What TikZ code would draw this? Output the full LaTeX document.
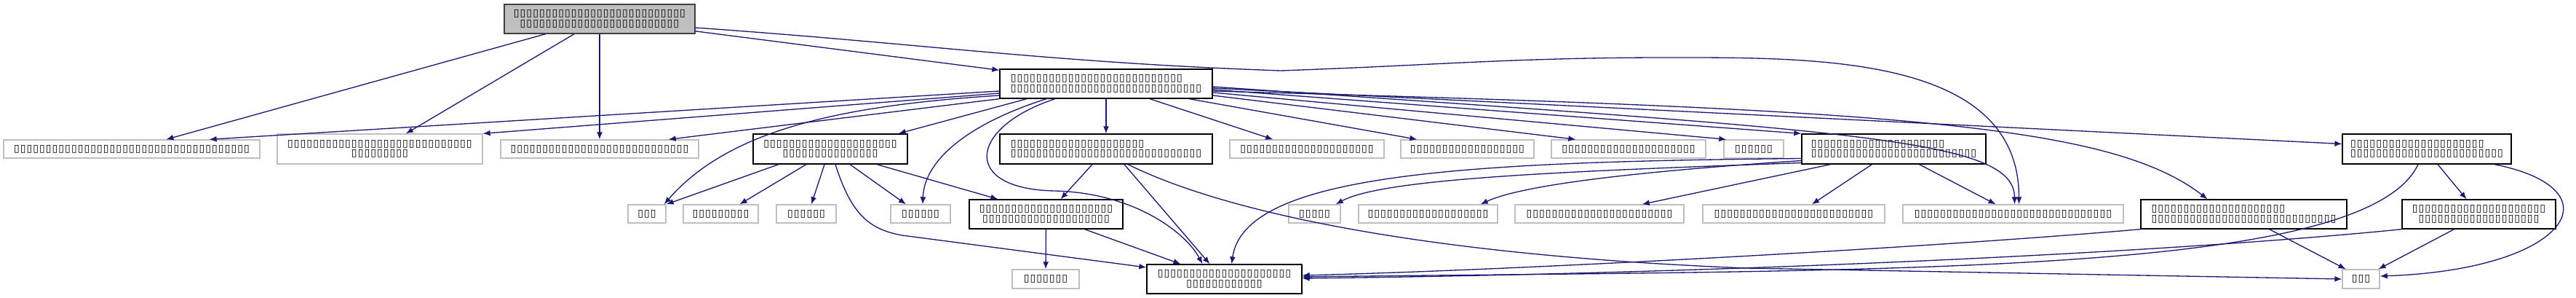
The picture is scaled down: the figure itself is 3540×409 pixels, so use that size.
\documentclass[tikz,border=0pt]{standalone}
\usepackage{fontspec}
\usepackage{tikz}
\usetikzlibrary{arrows.meta}
\newfontfamily\tofufont{DejaVu Sans}
\definecolor{EdgeBlue}{RGB}{25,25,112}
\definecolor{LeafGray}{RGB}{191,191,191}
\definecolor{RootGray}{RGB}{64,64,64}
\newcommand{\tofus}[1]{\foreach \k in {1,...,#1}{\makebox[5pt]{▯}}}

\begin{document}
\begin{tikzpicture}[x=0.02cm, y=-0.02cm,
	filebox/.style={draw=black, fill=white, line width=0.75pt, inner sep=0pt, minimum height=0.82cm, font=\tofufont\fontsize{8}{7.6}\selectfont},
	leafbox/.style={filebox, draw=LeafGray, minimum height=0.5cm},
	rootbox/.style={filebox, fill=LeafGray, draw=RootGray, minimum height=0.8cm},
	dep/.style={EdgeBlue, line width=0.75pt, -{Latex[length=5.7pt,width=4.5pt]}}]
		\useasboundingbox (0,0) rectangle (3540,409);
		
		\node[rootbox, minimum width=5.24cm, align=center] (R) at (824,26) {\tofus{27}\\\tofus{25}};
		\node[filebox, minimum width=5.84cm, minimum height=0.8cm, align=left] (E) at (1520,115) {\tofus{27}\\\tofus{30}};
		
		% third row
		\node[leafbox, minimum width=7.04cm] (A) at (181,204.5) {\tofus{37}};
		\node[leafbox, minimum width=5.64cm, minimum height=0.82cm, align=center] (B) at (522,204.5) {\tofus{29}\\\tofus{9}};
		\node[leafbox, minimum width=5.44cm] (C) at (824,204.5) {\tofus{28}};
		\node[filebox, minimum width=4.24cm, align=center] (D) at (1141,204.5) {\tofus{21}\\\tofus{15}};
		\node[filebox, minimum width=5.84cm, align=left] (I) at (1520,204.5) {\tofus{21}\\\tofus{30}};
		\node[leafbox, minimum width=4.24cm] (Ta) at (1796,204.5) {\tofus{21}};
		\node[leafbox, minimum width=3.66cm] (Tb) at (2016.5,204.5) {\tofus{18}};
		\node[leafbox, minimum width=4.24cm] (Tc) at (2238,204.5) {\tofus{21}};
		\node[leafbox, minimum width=1.64cm] (Td) at (2410,204.5) {\tofus{6}};
		\node[filebox, minimum width=5.06cm, align=left] (J) at (2602.5,204.5) {\tofus{21}\\\tofus{26}};
		\node[filebox, minimum width=4.64cm, align=left] (K) at (3335,204.5) {\tofus{21}\\\tofus{24}};
		
		% fourth row
		\node[leafbox, minimum width=1.04cm] (P1) at (889,293.5) {\tofus{3}};
		\node[leafbox, minimum width=2.06cm] (P2) at (990.5,293.5) {\tofus{9}};
		\node[leafbox, minimum width=1.64cm] (P3) at (1108,293.5) {\tofus{6}};
		\node[leafbox, minimum width=1.64cm] (P4) at (1265,293.5) {\tofus{6}};
		\node[filebox, minimum width=4.22cm, minimum height=0.8cm, align=center] (F) at (1437.5,294) {\tofus{21}\\\tofus{20}};
		\node[leafbox, minimum width=1.42cm] (Qa) at (1806.5,293.5) {\tofus{5}};
		\node[leafbox, minimum width=3.82cm] (Qb) at (1962.5,293.5) {\tofus{19}};
		\node[leafbox, minimum width=4.64cm] (Qc) at (2198,293.5) {\tofus{23}};
		\node[leafbox, minimum width=5.00cm] (Qd) at (2465,293.5) {\tofus{25}};
		\node[leafbox, minimum width=6.06cm] (L) at (2766.5,293.5) {\tofus{31}};
		\node[filebox, minimum width=5.66cm, minimum height=0.8cm, align=left] (M) at (3083.5,294) {\tofus{21}\\\tofus{29}};
		\node[filebox, minimum width=4.22cm, minimum height=0.8cm, align=center] (N) at (3406.5,294) {\tofus{21}\\\tofus{19}};
		
		% bottom row
		\node[leafbox, minimum width=1.84cm, minimum height=0.52cm] (G) at (1437,383) {\tofus{7}};
		\node[filebox, minimum width=4.26cm, minimum height=0.8cm, align=center] (H) at (1682.5,383) {\tofus{21}\\\tofus{12}};
		\node[leafbox, minimum width=1.02cm, minimum height=0.52cm] (O) at (3244.5,383) {\tofus{3}};
		
		\draw[dep] (R) -- (A);
		\draw[dep] (R) -- (B);
		\draw[dep] (R) -- (C);
		\draw[dep] (R) -- (E);
		\draw[dep] ([shift={(0,12)}]R.east) to[out=-4,in=178] (1760,97) to[out=2,in=180] (2290,79) to[out=0,in=90] ([shift={(8,0)}]L.north);
		
		\draw[dep] ([shift={(0,10)}]E.west) -- ([shift={(-70,0)}]A.north east);
		\draw[dep] ([shift={(0,13)}]E.west) -- (B.north east);
		\draw[dep] (E.south west) -- ([shift={(-42,0)}]C.north east);
		\draw[dep] ([shift={(0,16)}]E.west) .. controls (1150,145) and (1000,180) .. ([shift={(-3,0)}]P1.north east);
		\draw[dep] ([shift={(-109,0)}]E.south) -- ([shift={(-13,0)}]D.north east);
		\draw[dep] ([shift={(-82,0)}]E.south) .. controls (1330,170) and (1270,220) .. ([shift={(3,0)}]P4.north);
		\draw[dep] ([shift={(-70,0)}]E.south) .. controls (1330,175) and (1320,260) .. (1450,262) .. controls (1560,265) and (1630,320) .. ([shift={(-30,0)}]H.north);
		\draw[dep] (E) -- (I);
		\draw[dep] ([shift={(60,0)}]E.south) -- ([shift={(60,0)}]Ta.north west);
		\draw[dep] ([shift={(114,0)}]E.south) -- ([shift={(23,0)}]Tb.north west);
		\draw[dep] ([shift={(0,16)}]E.east) -- ([shift={(34,0)}]Tc.north west);
		\draw[dep] ([shift={(0,12)}]E.east) -- ([shift={(4,0)}]Td.north west);
		\draw[dep] ([shift={(0,8)}]E.east) -- (J.north west);
		\draw[dep] ([shift={(0,6)}]E.east) -- ([shift={(0,-7)}]K.west);
		\draw[dep] ([shift={(0,4)}]E.east) .. controls (2550,180) and (2768,190) .. ([shift={(2,0)}]L.north);
		\draw[dep] ([shift={(0,10)}]E.east) .. controls (2600,150) and (2900,170) .. ([shift={(-50,0)}]M.north);
		
		\draw[dep] ([shift={(-71,0)}]D.south) -- (P1.north east);
		\draw[dep] ([shift={(-33,0)}]D.south) -- ([shift={(26,0)}]P2.north);
		\draw[dep] ([shift={(-8,0)}]D.south) -- ([shift={(7,0)}]P3.north);
		\draw[dep] ([shift={(27,0)}]D.south) -- ([shift={(-20,0)}]P4.north);
		\draw[dep] ([shift={(64,0)}]D.south) -- ([shift={(40,0)}]F.north west);
		\draw[dep] ([shift={(7,0)}]D.south) .. controls (1170,295) and (1195,315) .. (1240,323) -- ([shift={(0,-16)}]H.west);
		
		\draw[dep] ([shift={(-19,0)}]I.south) -- ([shift={(20,0)}]F.north);
		\draw[dep] ([shift={(25,0)}]I.south) -- ([shift={(-20,0)}]H.north);
		\draw[dep] ([shift={(30,0)}]I.south) .. controls (1680,290) and (1950,350) .. (2400,368) -- (O.west);
		
		\draw[dep] (F) -- (G);
		\draw[dep] ([shift={(53,0)}]F.south) -- ([shift={(-60,0)}]H.north);
		
		\draw[dep] ([shift={(0,19)}]J.west) .. controls (2150,235) and (1900,245) .. ([shift={(-7,0)}]Qa.north east);
		\draw[dep] ([shift={(0,16)}]J.west) .. controls (2300,232) and (2100,250) .. ([shift={(-24,0)}]Qb.north east);
		\draw[dep] ([shift={(-87,0)}]J.south) -- ([shift={(-58,0)}]Qc.north east);
		\draw[dep] ([shift={(-30,0)}]J.south) -- ([shift={(25,0)}]Qd.north);
		\draw[dep] ([shift={(35,0)}]J.south) -- ([shift={(-24,0)}]L.north);
		\draw[dep] ([shift={(0,13)}]J.west) .. controls (2000,222) and (1710,240) .. ([shift={(10,0)}]H.north);
		
		\draw[dep] ([shift={(15,0)}]K.south) -- ([shift={(-17,0)}]N.north);
		\draw[dep] ([shift={(-12,0)}]K.south) .. controls (3250,380) and (2600,370) .. ([shift={(0,-3)}]H.east);
		\draw[dep] ([shift={(93,0)}]K.south) .. controls (3600,260) and (3530,370) .. ([shift={(0,-4)}]O.east);
		
		\draw[dep] ([shift={(35,0)}]M.south) -- ([shift={(-21,0)}]O.north);
		\draw[dep] (M.south west) .. controls (2650,340) and (2100,370) .. ([shift={(0,-5)}]H.east);
		
		\draw[dep] ([shift={(-34,0)}]N.south) -- ([shift={(24,0)}]O.north);
		\draw[dep] (N.south west) .. controls (3000,345) and (2400,375) .. ([shift={(0,-1)}]H.east);
	\end{tikzpicture}
\end{document}
